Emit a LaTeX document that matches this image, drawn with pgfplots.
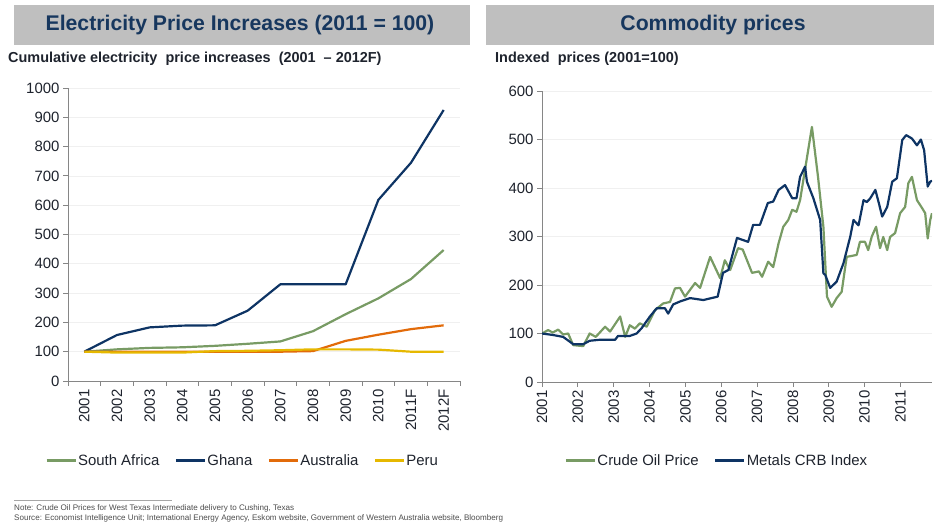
\documentclass[border=0pt]{standalone}
\usepackage{pgfplots}
\pgfplotsset{compat=1.18}
\usepackage{fontspec}
\setmainfont{Liberation Sans}
\definecolor{cgreen}{RGB}{120,155,100}
\definecolor{cnavy}{RGB}{14,52,100}
\definecolor{corange}{RGB}{226,107,10}
\definecolor{cyellow}{RGB}{230,184,0}
\definecolor{tgray}{RGB}{191,191,191}
\definecolor{tnavy}{RGB}{23,55,94}
\definecolor{axgray}{RGB}{134,134,134}
\definecolor{txt}{RGB}{30,35,45}
\pgfplotsset{
  common/.style={
    scale only axis,
    axis x line*=bottom, axis y line*=left,
    axis line style={axgray, line width=0.8bp},
    tick style={axgray, line width=0.8bp},
    tick align=outside,
    major tick length=5bp,
    ymajorgrids, grid style={draw=gray!12, line width=0.6bp},
    /pgf/number format/assume math mode=true,
    /pgf/number format/1000 sep={},
    tick label style={font=\fontsize{15}{17}\selectfont, text=txt},
    xticklabel style={rotate=90, anchor=east},
    legend style={draw=none, fill=none, legend columns=-1,
      font=\fontsize{15}{17}\selectfont, text=txt,
      /tikz/every even column/.append style={column sep=14bp},
      nodes={inner xsep=1bp}},
    legend image code/.code={\draw[#1, line width=3bp] (0bp,0bp) -- (29bp,0bp);},
    every axis plot/.append style={line width=2.2bp, line join=round},
  }
}
\begin{document}
\begin{tikzpicture}
\useasboundingbox (0,0) rectangle (934bp,528bp);
% title boxes
\fill[tgray] (14bp,483bp) rectangle (470bp,523bp);
\fill[tgray] (486bp,483bp) rectangle (934bp,523bp);
\node[text=tnavy, font=\fontsize{21.3}{24}\selectfont\bfseries] at (240bp,503bp) {Electricity Price Increases (2011 = 100)};
\node[text=tnavy, font=\fontsize{21.3}{24}\selectfont\bfseries] at (713bp,503bp) {Commodity prices};
\node[anchor=base west, inner sep=0pt, text=txt, font=\fontsize{14.5}{17}\selectfont\bfseries] at (8bp,465bp) {Cumulative electricity\ \ price increases\ \ (2001\ \ – 2012F)};
\node[anchor=base west, inner sep=0pt, text=txt, font=\fontsize{14.5}{17}\selectfont\bfseries] at (495bp,465bp) {Indexed\ \ prices (2001=100)};

\begin{axis}[common,
  at={(68bp,147bp)}, anchor=south west,
  width=392bp, height=293bp,
  xmin=-0.5, xmax=11.5, ymin=0, ymax=1000,
  ytick={0,100,...,1000},
  xtick={0,...,11},
  xticklabels={2001,2002,2003,2004,2005,2006,2007,2008,2009,2010,2011F,2012F},
  major x tick style={draw=none},
  minor xtick={-0.5,0.5,...,11.5},
  minor tick length=5bp,
  legend style={at={(0.444,-0.273)}, anchor=center},
]
\addplot[cgreen] coordinates {(0,100)(1,108)(2,113)(3,115)(4,120)(5,127)(6,135)(7,170)(8,228)(9,282)(10,348)(11,447)};
\addlegendentry{South Africa}
\addplot[cnavy] coordinates {(0,100)(1,157)(2,183)(3,189)(4,190)(5,240)(6,330)(7,330)(8,330)(9,618)(10,745)(11,925)};
\addlegendentry{Ghana}
\addplot[corange] coordinates {(0,100)(1,100)(2,100)(3,100)(4,100)(5,100)(6,100)(7,102)(8,137)(9,158)(10,177)(11,190)};
\addlegendentry{Australia}
\addplot[cyellow] coordinates {(0,100)(1,97)(2,97)(3,97)(4,102)(5,103)(6,105)(7,108)(8,108)(9,107)(10,100)(11,100)};
\addlegendentry{Peru}
\end{axis}

\begin{axis}[common,
  at={(542bp,146bp)}, anchor=south west,
  width=390bp, height=291bp,
  xmin=2001, xmax=2011.88, ymin=0, ymax=600,
  ytick={0,100,...,600},
  xtick={2001,...,2011},
  xticklabels={2001,2002,2003,2004,2005,2006,2007,2008,2009,2010,2011},
  legend style={at={(0.447,-0.271)}, anchor=center},
]
\addplot[cgreen] coordinates {
(2001.0,100)(2001.17,107)(2001.3,102)(2001.45,108)(2001.59,98)(2001.73,100)(2001.87,76)
(2002.15,74)(2002.33,100)(2002.5,93)(2002.76,114)(2002.9,104)(2003.18,135)(2003.32,93)
(2003.45,117)(2003.59,110)(2003.73,121)(2003.92,114)(2004.15,148)(2004.38,162)(2004.57,165)
(2004.71,193)(2004.85,194)(2004.99,176)(2005.27,204)(2005.41,194)(2005.69,258)(2005.97,214)
(2006.1,251)(2006.25,231)(2006.47,276)(2006.6,273)(2006.86,225)(2007.05,228)(2007.14,217)
(2007.31,248)(2007.45,237)(2007.6,286)(2007.73,320)(2007.87,334)(2007.98,355)(2008.1,351)
(2008.2,375)(2008.29,416)(2008.53,526)(2008.7,423)(2008.85,320)(2008.95,176)(2009.08,155)
(2009.22,173)(2009.36,186)(2009.5,258)(2009.78,262)(2009.87,289)(2010.01,289)(2010.1,272)
(2010.2,300)(2010.32,320)(2010.43,276)(2010.52,299)(2010.63,272)(2010.71,299)(2010.85,307)
(2010.99,348)(2011.13,361)(2011.22,410)(2011.32,423)(2011.46,375)(2011.6,359)(2011.69,348)
(2011.76,296)(2011.83,334)(2011.88,348)};
\addlegendentry{Crude Oil Price}
\addplot[cnavy] coordinates {
(2001.0,100)(2001.3,97)(2001.59,93)(2001.87,78)(2002.15,78)(2002.33,85)(2002.6,87)
(2003.04,87)(2003.12,95)(2003.45,95)(2003.64,100)(2003.78,111)(2004.01,135)(2004.2,152)
(2004.43,152)(2004.52,141)(2004.66,160)(2004.85,166)(2005.13,173)(2005.5,169)(2005.9,176)
(2006.05,225)(2006.2,231)(2006.44,297)(2006.75,289)(2006.89,324)(2007.08,324)(2007.3,369)
(2007.45,372)(2007.6,396)(2007.78,406)(2007.98,379)(2008.1,379)(2008.2,423)(2008.34,444)
(2008.39,413)(2008.57,379)(2008.76,334)(2008.85,224)(2008.9,221)(2009.04,194)(2009.22,207)
(2009.41,245)(2009.6,300)(2009.69,334)(2009.83,323)(2009.97,375)(2010.06,371)(2010.15,378)
(2010.3,396)(2010.4,368)(2010.49,341)(2010.63,361)(2010.77,413)(2010.9,420)(2011.05,499)
(2011.16,509)(2011.32,502)(2011.46,488)(2011.57,500)(2011.66,478)(2011.76,403)(2011.83,413)
(2011.88,415)};
\addlegendentry{Metals CRB Index}
\end{axis}

% footnote
\draw[gray!70, line width=0.6bp] (14bp,28bp) -- (172bp,28bp);
\node[anchor=base west, inner sep=0pt, text=gray!60!black, font=\fontsize{8.1}{9}\selectfont] at (14bp,18bp) {Note: Crude Oil Prices for West Texas Intermediate delivery to Cushing, Texas};
\node[anchor=base west, inner sep=0pt, text=gray!60!black, font=\fontsize{8.1}{9}\selectfont] at (14bp,8bp) {Source: Economist Intelligence Unit; International Energy Agency, Eskom website, Government of Western Australia website, Bloomberg};
\end{tikzpicture}
\end{document}
